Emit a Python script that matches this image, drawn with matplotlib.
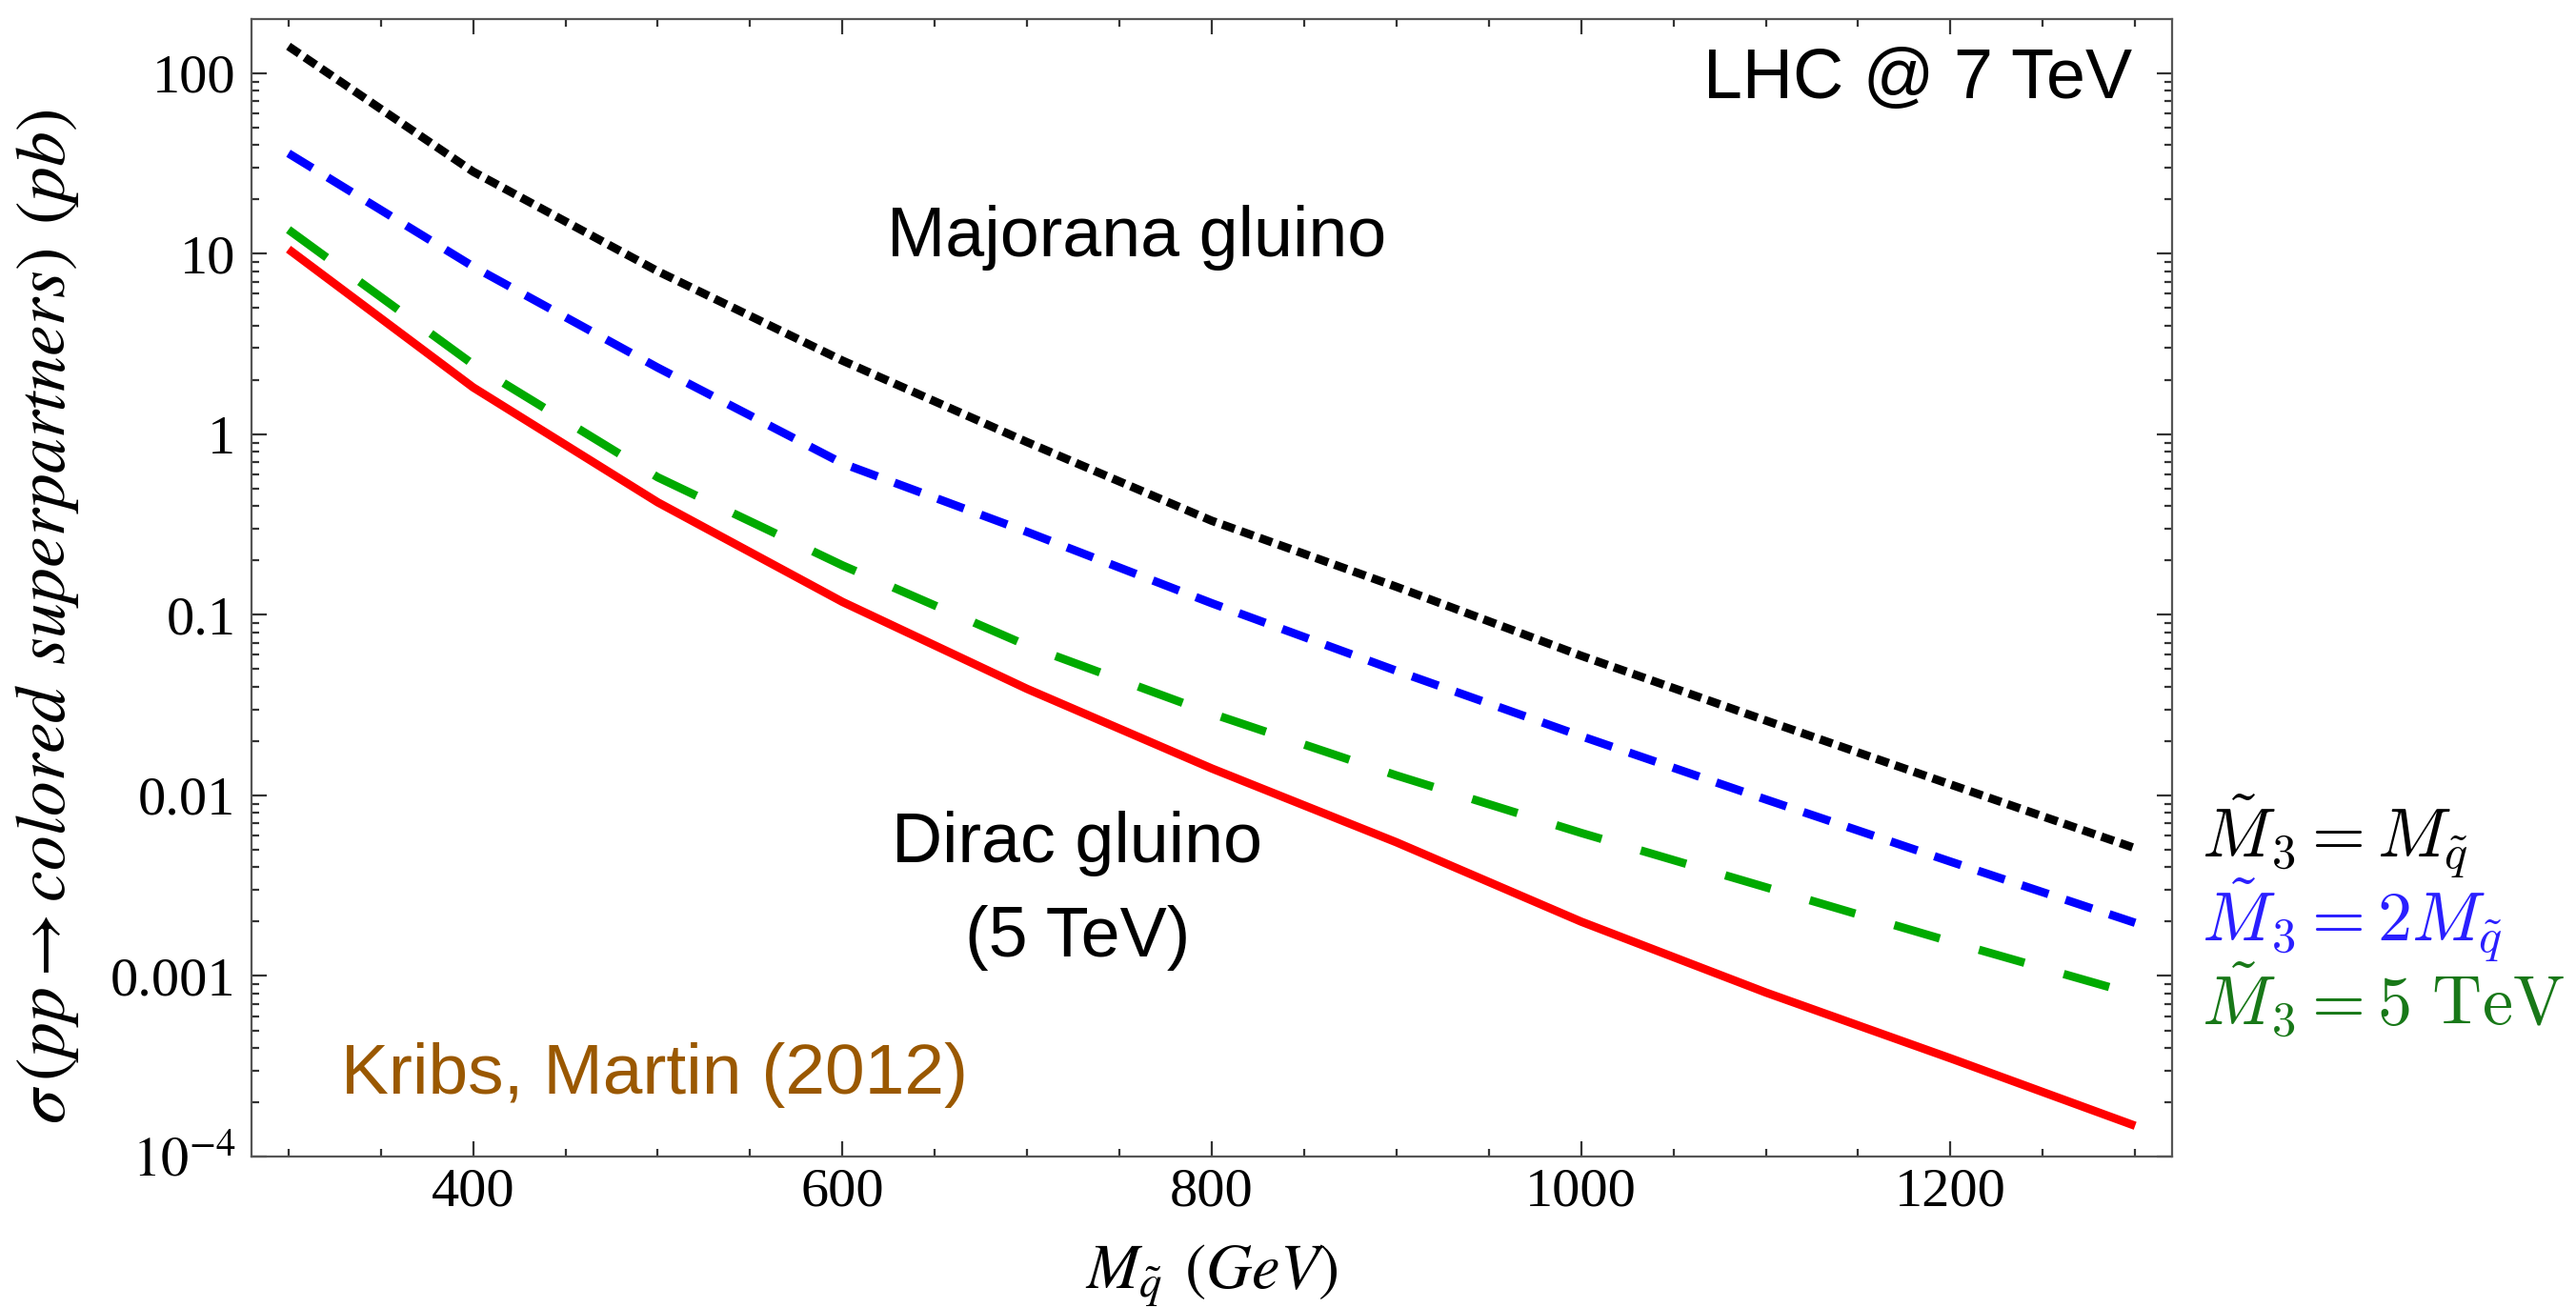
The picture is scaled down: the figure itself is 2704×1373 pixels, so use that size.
import matplotlib
matplotlib.use("Agg")
import matplotlib.pyplot as plt
from matplotlib.ticker import MultipleLocator, FixedLocator, LogLocator, NullFormatter, FixedFormatter

# ---- data ----
squark_mass = [300, 400, 500, 600, 700, 800, 900, 1000, 1100, 1200, 1300]
sigma_majorana = [141, 28.5, 8.0, 2.56, 0.905, 0.332, 0.143, 0.0594, 0.026, 0.0115, 0.0051]
sigma_dirac_2m = [36, 8.5, 2.34, 0.69, 0.288, 0.116, 0.049, 0.0213, 0.0095, 0.0043, 0.00197]
sigma_dirac_5tev = [13.6, 2.44, 0.578, 0.188, 0.0676, 0.0284, 0.0129, 0.0062, 0.0031, 0.00155, 0.00079]
sigma_dirac_eq = [10.6, 1.82, 0.42, 0.118, 0.0389, 0.0141, 0.0055, 0.0020, 0.00081, 0.00035, 0.000148]

ytick_vals = [1e-4, 1e-3, 1e-2, 1e-1, 1, 10, 100]
ytick_labels = [r"$10^{-4}$", "0.001", "0.01", "0.1", "1", "10", "100"]
xtick_vals = [400, 600, 800, 1000, 1200]
xtick_labels = ["400", "600", "800", "1000", "1200"]

plt.rcParams["mathtext.fontset"] = "stix"
plt.rcParams["font.family"] = ["Liberation Serif", "DejaVu Serif"]
plt.rcParams["lines.scale_dashes"] = False

DPI = 200
fig = plt.figure(figsize=(2704 / DPI, 1373 / DPI), dpi=DPI)
ax = fig.add_axes([264 / 2704, 1 - 1214 / 1373, (2280 - 264) / 2704, (1214 - 20) / 1373])

lw = 3.15
ax.plot(squark_mass, sigma_majorana, color="black", lw=lw, dashes=(5.0, 2.5),
        dash_capstyle="butt")
ax.plot(squark_mass, sigma_dirac_2m, color="#0000ff", lw=lw, dashes=(10.6, 6.8),
        dash_capstyle="butt")
ax.plot(squark_mass, sigma_dirac_5tev, color="#00aa00", lw=lw, dashes=(17.9, 15.4),
        dash_capstyle="butt")
ax.plot(squark_mass, sigma_dirac_eq, color="#ff0000", lw=lw, solid_capstyle="butt")

ax.set_yscale("log")
ax.set_xlim(280, 1320)
ax.set_ylim(1e-4, 10 ** 2.3)

ax.xaxis.set_major_locator(FixedLocator(xtick_vals))
ax.xaxis.set_major_formatter(FixedFormatter(xtick_labels))
ax.xaxis.set_minor_locator(MultipleLocator(50))
ax.yaxis.set_major_locator(FixedLocator(ytick_vals))
ax.yaxis.set_major_formatter(FixedFormatter(ytick_labels))
ax.yaxis.set_minor_locator(LogLocator(base=10, subs=[2, 3, 4, 5, 6, 7, 8, 9], numticks=20))
ax.yaxis.set_minor_formatter(NullFormatter())

spine_col = "#555555"
for s in ax.spines.values():
    s.set_color(spine_col)
    s.set_linewidth(0.8)
ax.tick_params(which="both", direction="in", top=True, right=True, color="#333333", width=0.8)
ax.tick_params(which="major", length=5.6)
ax.tick_params(which="minor", length=2.9)
ax.tick_params(axis="x", which="major", labelsize=21, pad=4)
ax.tick_params(axis="y", which="major", labelsize=21, pad=6)

ax.set_xlabel(r"$M_{\tilde{q}}\;\,(GeV)$", fontsize=24)
ax.xaxis.label.set_verticalalignment("baseline")
ax.xaxis.set_label_coords(0.5, -0.1160)
ax.set_ylabel(r"$\sigma\,(pp \rightarrow colored\;\,superpartners)\;\,(pb)$", fontsize=26.5)
ax.yaxis.set_label_coords(-0.089, 0.475)

sans = ["Liberation Sans", "DejaVu Sans"]
fs = 26.5
ax.text(0.8676, 0.947, "LHC @ 7 TeV", transform=ax.transAxes, ha="center", va="center",
        fontsize=fs, family=sans)
ax.text(0.4608, 0.8074, "Majorana gluino", transform=ax.transAxes, ha="center", va="center",
        fontsize=fs, family=sans)
ax.text(0.430, 0.2755, "Dirac gluino", transform=ax.transAxes, ha="center", va="center",
        fontsize=fs, family=sans)
ax.text(0.430, 0.1918, "(5 TeV)", transform=ax.transAxes, ha="center", va="center",
        fontsize=fs, family=sans)
ax.text(0.2098, 0.072, "Kribs, Martin (2012)", transform=ax.transAxes, ha="center", va="center",
        fontsize=27, family=sans, color="#9a5800")

fig.text(2311 / 2704, 1 - 900 / 1373, r"$\tilde{M}_3 = M_{\tilde{q}}$", fontsize=26,
         math_fontfamily="cm", color="black", ha="left", va="baseline")
fig.text(2311 / 2704, 1 - 988 / 1373, r"$\tilde{M}_3 = 2M_{\tilde{q}}$", fontsize=26,
         math_fontfamily="cm", color="#2a1fff", ha="left", va="baseline")
fig.text(2311 / 2704, 1 - 1075 / 1373, r"$\tilde{M}_3 = 5\ \mathrm{TeV}$", fontsize=26,
         math_fontfamily="cm", color="#187818", ha="left", va="baseline")

fig.savefig("out.png", dpi=DPI, facecolor="white")
